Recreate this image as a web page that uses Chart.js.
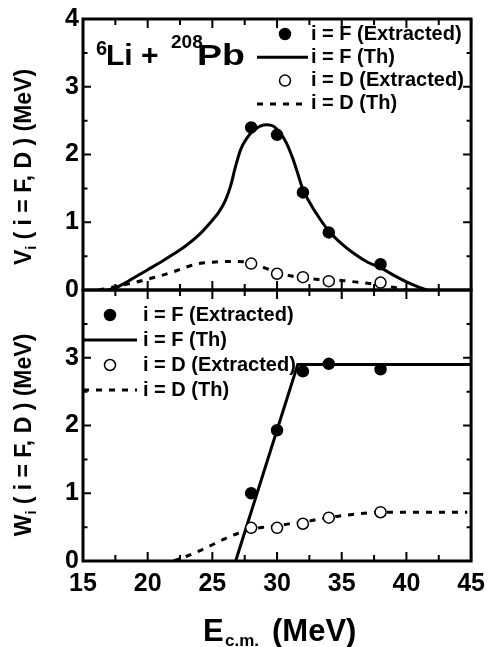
<!DOCTYPE html>
<html>
<head>
<script src="https://cdn.jsdelivr.net/npm/chart.js@4.4.1/dist/chart.umd.min.js"></script>
<style>
  html, body { margin: 0; padding: 0; background: #fff; }
</style>
</head>
<body>
<canvas id="chart" width="493" height="647"></canvas>
<script>
// measured points (same energies for both panels)
const energies = [28, 30, 32, 34, 38];
const vFusionExtracted = [2.40, 2.29, 1.44, 0.85, 0.38];
const vBreakupExtracted = [0.39, 0.24, 0.19, 0.13, 0.11];
const wFusionExtracted = [1.00, 1.93, 2.80, 2.91, 2.83];
const wBreakupExtracted = [0.49, 0.49, 0.55, 0.64, 0.72];

// theory curves
const vFusionThE = [16.9, 17.6, 18.5, 20, 21, 22, 23, 24, 25, 25.5, 26, 26.4, 26.8, 27.2, 27.7, 28.2, 28.7, 29.2, 29.7, 30.2, 30.7, 31.2, 31.6, 32, 32.5, 33, 34, 35, 36, 37, 38, 39, 40, 41, 41.6];
const vFusionTh = [0, 0.04, 0.13, 0.30, 0.41, 0.53, 0.66, 0.82, 1.03, 1.15, 1.32, 1.53, 1.83, 2.08, 2.25, 2.36, 2.42, 2.44, 2.42, 2.33, 2.18, 1.95, 1.72, 1.48, 1.30, 1.14, 0.87, 0.68, 0.53, 0.41, 0.33, 0.22, 0.12, 0.04, 0];
const vBreakupThE = [16.2, 17, 18, 19, 20, 21, 22, 23, 24, 25, 26, 27, 28, 29, 30, 31, 32, 33, 34, 35, 36, 37, 38, 39, 40];
const vBreakupTh = [0, 0.03, 0.07, 0.11, 0.16, 0.21, 0.27, 0.34, 0.39, 0.41, 0.42, 0.42, 0.40, 0.33, 0.26, 0.21, 0.18, 0.16, 0.15, 0.14, 0.12, 0.10, 0.07, 0.04, 0];
const wFusionThE = [26.8, 31.6, 45];
const wFusionTh = [0, 2.9, 2.9];
const wBreakupThE = [22, 23, 24, 25, 26, 27, 28, 29, 30, 31, 32, 33, 34, 35, 36, 37, 38, 40, 42, 44.7];
const wBreakupTh = [0, 0.07, 0.15, 0.24, 0.33, 0.41, 0.47, 0.50, 0.52, 0.55, 0.57, 0.61, 0.64, 0.67, 0.69, 0.71, 0.72, 0.72, 0.72, 0.72];

const legendLabels = ['i = F (Extracted)', 'i = F (Th)', 'i = D (Extracted)', 'i = D (Th)'];

const FONT = '"Liberation Sans", Arial, Helvetica, sans-serif';

function pts(xs, ys) {
  return xs.map((x, i) => ({ x: x, y: ys[i] }));
}

function extracted(label, ys, axis, filled) {
  return {
    label: label, yAxisID: axis, order: 0, showLine: false,
    data: pts(energies, ys),
    pointRadius: 5.5, pointBorderWidth: 1.5,
    pointBackgroundColor: filled ? '#000' : '#fff', pointBorderColor: '#000',
    _kind: filled ? 'dot' : 'circle'
  };
}

function theory(label, xs, ys, axis, dashed, smooth) {
  return {
    label: label, yAxisID: axis, order: 1,
    data: pts(xs, ys),
    borderColor: '#000', borderWidth: 3, pointRadius: 0,
    borderDash: dashed ? [6, 7] : [],
    cubicInterpolationMode: smooth ? 'monotone' : 'default', tension: 0,
    _kind: dashed ? 'dash' : 'line'
  };
}

const datasets = [
  extracted(legendLabels[0], vFusionExtracted, 'yV', true),
  theory(legendLabels[1], vFusionThE, vFusionTh, 'yV', false, true),
  extracted(legendLabels[2], vBreakupExtracted, 'yV', false),
  theory(legendLabels[3], vBreakupThE, vBreakupTh, 'yV', true, true),
  extracted(legendLabels[0], wFusionExtracted, 'yW', true),
  theory(legendLabels[1], wFusionThE, wFusionTh, 'yW', false, false),
  extracted(legendLabels[2], wBreakupExtracted, 'yW', false),
  theory(legendLabels[3], wBreakupThE, wBreakupTh, 'yW', true, true)
];

// draw a run of text pieces; each piece {t, size, dy}
function drawPieces(ctx, pieces, x, y) {
  let cx = x;
  for (const p of pieces) {
    ctx.font = 'bold ' + p.size + 'px ' + FONT;
    ctx.fillText(p.t, cx, y + (p.dy || 0));
    cx += ctx.measureText(p.t).width;
  }
  return cx;
}
function piecesWidth(ctx, pieces) {
  let w = 0;
  for (const p of pieces) {
    ctx.font = 'bold ' + p.size + 'px ' + FONT;
    w += ctx.measureText(p.t).width;
  }
  return w;
}

const frameAndTicks = {
  id: 'frameAndTicks',
  afterDatasetsDraw(chart) {
    const ctx = chart.ctx;
    const xs = chart.scales.x;
    const xt = xs.ticks.map(t => t.value);
    ctx.save();
    ctx.strokeStyle = '#000';
    for (const id of ['yV', 'yW']) {
      const ys = chart.scales[id];
      const L = xs.left, R = xs.right, T = ys.top, B = ys.bottom;
      ctx.lineWidth = 2;
      ctx.beginPath();
      const xMark = (v, len) => {
        const px = xs.getPixelForValue(v);
        ctx.moveTo(px, T); ctx.lineTo(px, T + len);
        ctx.moveTo(px, B); ctx.lineTo(px, B - len);
      };
      for (let i = 0; i < xt.length; i++) {
        xMark(xt[i], 9);
        if (i < xt.length - 1) xMark((xt[i] + xt[i + 1]) / 2, 6);
      }
      const yMark = (v, len) => {
        const py = ys.getPixelForValue(v);
        ctx.moveTo(L, py); ctx.lineTo(L + len, py);
        ctx.moveTo(R, py); ctx.lineTo(R - len, py);
      };
      for (let v = ys.min; v <= ys.max; v += 1) {
        yMark(v, 8);
        if (v + 0.5 < ys.max) yMark(v + 0.5, 4.5);
      }
      ctx.stroke();
      ctx.lineWidth = 3;
      ctx.strokeRect(L, T, R - L, B - T);
    }
    ctx.restore();
  },
  afterDraw(chart) {
    const ctx = chart.ctx;
    ctx.save();
    ctx.fillStyle = '#000';
    ctx.strokeStyle = '#000';
    ctx.textBaseline = 'middle';
    ctx.textAlign = 'left';

    // legends
    const boxes = {
      yV: { mx: 285, l0: 257, l1: 308, tx: 311, y0: 34, dy: 23.3 },
      yW: { mx: 110, l0: 83, l1: 137, tx: 143, y0: 315, dy: 25 }
    };
    for (const id in boxes) {
      const b = boxes[id];
      const items = chart.data.datasets.filter(d => d.yAxisID === id);
      items.forEach((d, i) => {
        const y = b.y0 + i * b.dy;
        if (d._kind === 'dot' || d._kind === 'circle') {
          ctx.beginPath();
          ctx.arc(b.mx, y, 5.5, 0, Math.PI * 2);
          ctx.fillStyle = d._kind === 'dot' ? '#000' : '#fff';
          ctx.fill();
          ctx.lineWidth = 1.5;
          ctx.stroke();
          ctx.fillStyle = '#000';
        } else {
          ctx.beginPath();
          ctx.lineWidth = 3;
          ctx.setLineDash(d._kind === 'dash' ? [6, 7] : []);
          ctx.moveTo(b.l0, y);
          ctx.lineTo(b.l1, y);
          ctx.stroke();
          ctx.setLineDash([]);
        }
        ctx.font = 'bold 20px ' + FONT;
        ctx.fillText(d.label, b.tx, y);
      });
    }

    // system label
    ctx.textBaseline = 'alphabetic';
    ctx.font = 'bold 20px ' + FONT;
    ctx.fillText('6', 96, 55);
    ctx.font = 'bold 30px ' + FONT;
    ctx.fillText('Li +', 106, 65);
    ctx.font = 'bold 19px ' + FONT;
    ctx.fillText('208', 171, 48);
    ctx.save();
    ctx.translate(197, 65);
    ctx.scale(1.25, 1);
    ctx.font = 'bold 30px ' + FONT;
    ctx.fillText('Pb', 0, 0);
    ctx.restore();

    // x title
    drawPieces(ctx, [{ t: 'E', size: 31 }], 203, 641);
    drawPieces(ctx, [{ t: 'c.m.', size: 17 }], 225, 646);
    drawPieces(ctx, [{ t: '(MeV)', size: 31 }], 272, 641);

    // y titles
    const yTitle = (letter, cy) => {
      const pieces = [
        { t: letter, size: 23 },
        { t: 'i', size: 14, dy: 5 },
        { t: ' ( i = F, D ) (MeV)', size: 23 }
      ];
      const w = piecesWidth(ctx, pieces);
      ctx.save();
      ctx.translate(31, cy);
      ctx.rotate(-Math.PI / 2);
      drawPieces(ctx, pieces, -w / 2, 0);
      ctx.restore();
    };
    yTitle('V', 167);
    yTitle('W', 435);
    ctx.restore();
  }
};

const tickFont = { family: FONT, size: 25, weight: 'bold' };

new Chart(document.getElementById('chart'), {
  type: 'line',
  data: { datasets: datasets },
  options: {
    responsive: false,
    animation: false,
    devicePixelRatio: 1,
    layout: { padding: { top: 15, right: 16, left: 0, bottom: 0 } },
    plugins: { legend: { display: false }, tooltip: { enabled: false } },
    scales: {
      x: {
        type: 'linear', position: 'bottom', min: 15, max: 45,
        grid: { display: false, drawTicks: false }, border: { display: false },
        ticks: { stepSize: 5, font: tickFont, color: '#000', padding: 8, maxRotation: 0 },
        afterFit: s => { s.height = 86; }
      },
      yW: {
        type: 'linear', position: 'left', stack: 'panels', min: 0, max: 4,
        grid: { display: false, drawTicks: false }, border: { display: false },
        ticks: { stepSize: 1, font: tickFont, color: '#000', padding: 4,
          callback: v => (v === 4 ? '' : v) },
        afterFit: s => { s.width = 83; }
      },
      yV: {
        type: 'linear', position: 'left', stack: 'panels', min: 0, max: 4,
        grid: { display: false, drawTicks: false }, border: { display: false },
        ticks: { stepSize: 1, font: tickFont, color: '#000', padding: 4 },
        afterFit: s => { s.width = 83; }
      }
    }
  },
  plugins: [frameAndTicks]
});
</script>
</body>
</html>
